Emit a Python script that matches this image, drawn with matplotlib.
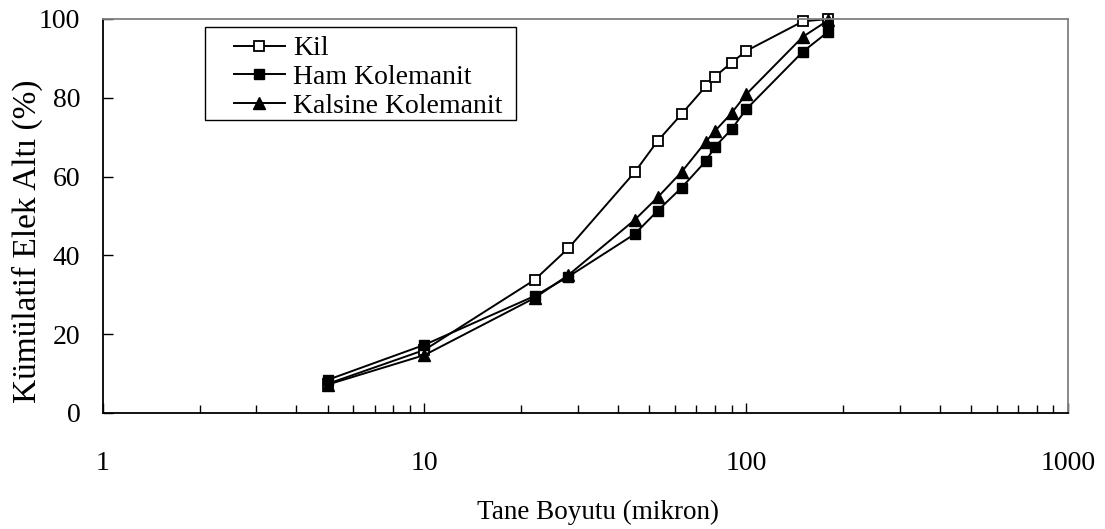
import matplotlib
matplotlib.use("Agg")
import matplotlib.pyplot as plt
from matplotlib.patches import Rectangle

plt.rcParams["font.family"] = ["Liberation Serif", "DejaVu Serif"]

# tane boyutu (mikron)
boyut = [5, 10, 22, 28, 45, 53, 63, 75, 80, 90, 100, 150, 180]

# kümülatif elek altı (%)
kil = [7.4, 16.0, 33.8, 41.8, 61.1, 69.0, 75.9, 83.0, 85.4, 88.9, 91.9, 99.4, 100.0]
ham_kolemanit = [8.4, 17.3, 29.7, 34.6, 45.4, 51.3, 57.2, 64.0, 67.6, 72.0, 77.1, 91.7, 96.8]
kalsine_kolemanit = [7.2, 14.7, 29.2, 35.0, 49.0, 54.7, 61.2, 68.9, 71.6, 76.1, 80.9, 95.5, 99.7]

W, H = 1105, 529
fig = plt.figure(figsize=(W / 100, H / 100), dpi=100)
ax = fig.add_axes([102.7 / W, 1 - 413 / H, (1068 - 102.7) / W, (413 - 19) / H])

ax.plot(boyut, kil, color="black", lw=1.4, marker="s", ms=7.5,
        mfc="white", mec="black", mew=1.3, label="Kil", clip_on=False)
ax.plot(boyut, ham_kolemanit, color="black", lw=1.4, marker="s", ms=7.5,
        mfc="black", mec="black", label="Ham Kolemanit", clip_on=False)
ax.plot(boyut, kalsine_kolemanit, color="black", lw=1.4, marker="^", ms=8.5,
        mfc="black", mec="black", label="Kalsine Kolemanit", clip_on=False)

ax.set_xscale("log")
ax.set_xlim(1, 1000)
ax.set_ylim(0, 100)
ax.set_yticks([0, 20, 40, 60, 80, 100])
ax.set_xticks([1, 10, 100, 1000])
ax.set_xticklabels(["1", "10", "100", "1000"])

ax.tick_params(axis="both", which="major", direction="in", length=7.5,
               width=1, labelsize=20, colors="black")
ax.tick_params(axis="x", which="major", pad=27)
ax.tick_params(axis="y", which="major", pad=16)
ax.tick_params(axis="x", which="minor", direction="in", length=5.5, width=1)

for s in ["left", "bottom"]:
    ax.spines[s].set_color("black")
    ax.spines[s].set_linewidth(1.3)
for s in ["top", "right"]:
    ax.spines[s].set_color("#808080")
    ax.spines[s].set_linewidth(1.3)

# eksen başlıkları
fig.text(598 / W, 1 - 512 / H, "Tane Boyutu (mikron)", fontsize=19.5,
         ha="center", va="center")
fig.text(27 / W, 1 - 241.5 / H, "Kümülatif Elek Altı (%)", fontsize=24,
         rotation=90, ha="center", va="center")

# lejant
leg = ax.legend(loc="upper left", bbox_to_anchor=(234 / W, 1 - 36 / H),
                bbox_transform=fig.transFigure, borderaxespad=0, borderpad=0,
                fontsize=20, frameon=False, handlelength=1.83,
                handletextpad=0.29, labelspacing=0.115)
fig.add_artist(Rectangle((204.6 / W, 1 - 120 / H), (516 - 204.6) / W,
                         (120 - 26.7) / H, transform=fig.transFigure,
                         fill=False, edgecolor="black", linewidth=1.0))

fig.savefig("out.png", dpi=100)
